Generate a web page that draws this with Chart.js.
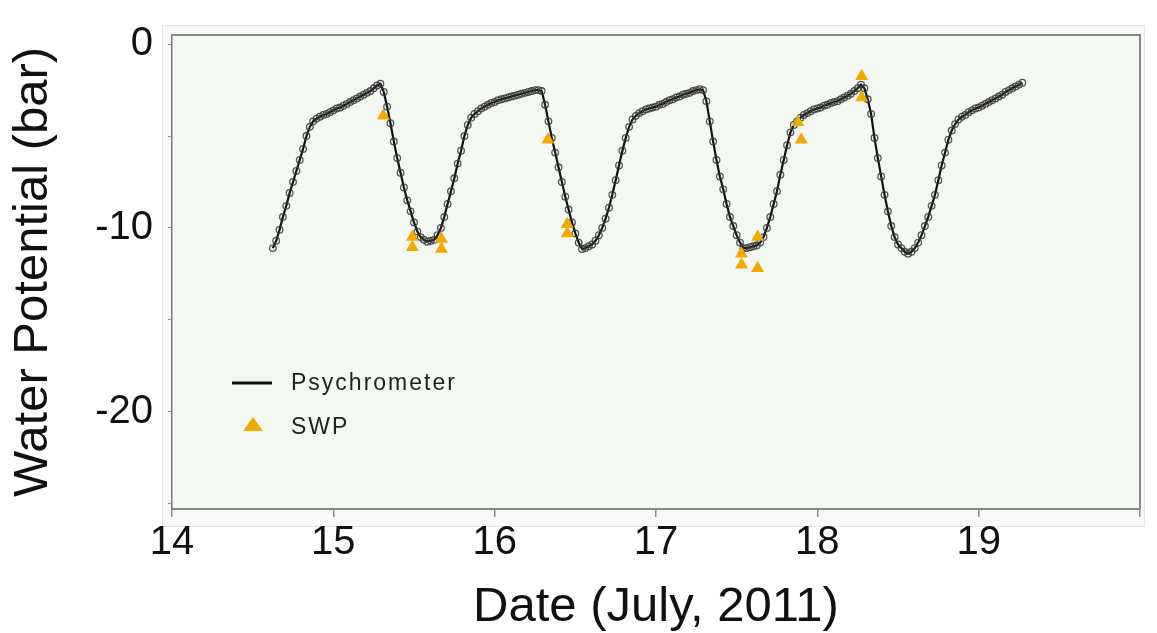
<!DOCTYPE html>
<html>
<head>
<meta charset="utf-8">
<title>Water Potential</title>
<script src="https://cdn.jsdelivr.net/npm/chart.js@4.4.1/dist/chart.umd.min.js"></script>
<style>
  html, body { margin: 0; padding: 0; background: #fff; }
  #wrap { width: 1157px; height: 633px; position: relative; }
</style>
</head>
<body>
<div id="wrap"><canvas id="chart"></canvas></div>
<script>
// psychrometer readings, every half hour from 14 July 15:00
const startDay = 14.625
const stepDays = 1 / 48
const psychValues = [
  -11.1, -10.7, -10.1, -9.4, -8.8, -8.1, -7.5, -6.9, -6.3, -5.7, -5.0, -4.5,
  -4.2, -4.05, -3.95, -3.85, -3.8, -3.7, -3.6, -3.5, -3.45, -3.35, -3.25, -3.15,
  -3.05, -2.95, -2.85, -2.75, -2.65, -2.55, -2.4, -2.25, -2.15, -2.6, -3.4, -4.3,
  -5.3, -6.2, -7.0, -7.8, -8.5, -9.1, -9.7, -10.2, -10.5, -10.65, -10.75, -10.7,
  -10.65, -10.4, -10.0, -9.4, -8.7, -8.0, -7.3, -6.5, -5.8, -5.0, -4.4, -4.0,
  -3.8, -3.65, -3.5, -3.4, -3.3, -3.2, -3.15, -3.05, -3.0, -2.95, -2.9, -2.85,
  -2.8, -2.75, -2.7, -2.65, -2.6, -2.55, -2.5, -2.5, -2.55, -3.3, -4.2, -5.1,
  -5.9, -6.7, -7.5, -8.3, -9.0, -9.7, -10.3, -10.8, -11.15, -11.1, -11.0, -10.9,
  -10.7, -10.4, -10.0, -9.5, -8.9, -8.2, -7.4, -6.6, -5.8, -5.1, -4.5, -4.1,
  -3.9, -3.75, -3.65, -3.55, -3.5, -3.45, -3.4, -3.3, -3.25, -3.15, -3.05, -3.0,
  -2.9, -2.85, -2.75, -2.7, -2.65, -2.55, -2.5, -2.45, -2.5, -3.1, -4.2, -5.3,
  -6.3, -7.2, -7.9, -8.7, -9.4, -9.9, -10.4, -10.8, -11.1, -11.1, -11.05, -11.0,
  -10.95, -10.8, -10.5, -10.0, -9.4, -8.7, -8.0, -7.1, -6.3, -5.5, -4.8, -4.4,
  -4.2, -4.0, -3.85, -3.75, -3.65, -3.55, -3.5, -3.45, -3.35, -3.3, -3.2, -3.15,
  -3.1, -3.0, -2.9, -2.8, -2.7, -2.55, -2.4, -2.2, -2.4, -3.0, -3.8, -5.1,
  -6.2, -7.2, -8.2, -9.1, -9.9, -10.5, -10.9, -11.1, -11.3, -11.4, -11.3, -11.1,
  -10.8, -10.4, -9.9, -9.4, -8.8, -8.2, -7.4, -6.6, -5.9, -5.2, -4.7, -4.35,
  -4.1, -3.95, -3.85, -3.7, -3.6, -3.5, -3.45, -3.35, -3.25, -3.15, -3.05, -2.95,
  -2.85, -2.75, -2.6, -2.5, -2.4, -2.3, -2.2, -2.1,
]

// stem water potential (pressure chamber) samples
const swpDays = [15.31, 15.49, 15.49, 15.67, 15.67, 16.33, 16.45, 16.45, 17.53, 17.53, 17.63, 17.63, 17.88, 17.9, 18.275, 18.275]
const swpValues = [-3.9, -10.5, -11.05, -10.6, -11.15, -5.2, -9.8, -10.3, -11.4, -12.0, -10.5, -12.2, -4.25, -5.2, -1.75, -2.9]

const xTicks = [14, 15, 16, 17, 18, 19, 20]
const xLabels = ["14", "15", "16", "17", "18", "19", ""]
const yTicks = [-25, -20, -15, -10, -5, 0]
const yLabels = ["", "-20", "", "-10", "", "0"]

const fontFamily = "'Liberation Sans', Arial, sans-serif"
const swpColor = "#f2a900"

const psychData = psychValues.map((v, i) => ({ x: startDay + i * stepDays, y: v }))
const swpData = swpValues.map((v, i) => ({ x: swpDays[i], y: v }))

// plot background, frame and in-plot legend
const framePlugin = {
    id: "frame",
    beforeDraw(chart) {
        const { ctx, chartArea: a } = chart
        ctx.save()
        ctx.fillStyle = "#f7f8f7"
        ctx.fillRect(a.left - 9, a.top - 9, a.right - a.left + 14, a.bottom - a.top + 27)
        ctx.strokeStyle = "#e3e5e3"
        ctx.lineWidth = 1
        ctx.strokeRect(a.left - 9.5, a.top - 9.5, a.right - a.left + 14, a.bottom - a.top + 27)
        ctx.fillStyle = "#f3f8f2"
        ctx.fillRect(a.left, a.top, a.right - a.left, a.bottom - a.top)
        ctx.restore()
    },
    afterDraw(chart) {
        const { ctx, chartArea: a } = chart
        ctx.save()
        ctx.strokeStyle = "#8a8a8a"
        ctx.lineWidth = 2
        ctx.beginPath()
        ctx.moveTo(a.left, a.top)
        ctx.lineTo(a.right, a.top)
        ctx.lineTo(a.right, a.bottom)
        ctx.stroke()

        // legend
        const lx = a.left + 60
        ctx.strokeStyle = "#111"
        ctx.lineWidth = 3
        ctx.beginPath()
        ctx.moveTo(lx, 383)
        ctx.lineTo(lx + 40, 383)
        ctx.stroke()

        ctx.fillStyle = swpColor
        ctx.beginPath()
        ctx.moveTo(lx + 21, 417)
        ctx.lineTo(lx + 31, 431)
        ctx.lineTo(lx + 11, 431)
        ctx.closePath()
        ctx.fill()

        ctx.fillStyle = "#222"
        ctx.font = "23px " + fontFamily
        ctx.textBaseline = "middle"
        if ("letterSpacing" in ctx) ctx.letterSpacing = "2px"
        ctx.fillText("Psychrometer", lx + 59, 384)
        ctx.fillText("SWP", lx + 59, 428)
        ctx.restore()
    },
}

new Chart(document.getElementById("chart"), {
    type: "line",
    data: {
        datasets: [
            {
                type: "scatter",
                label: "SWP",
                data: swpData,
                pointStyle: "triangle",
                pointRadius: 7.5,
                pointBackgroundColor: swpColor,
                pointBorderColor: swpColor,
                pointBorderWidth: 0,
                showLine: false,
                order: 0,
            },
            {
                label: "Psychrometer",
                data: psychData,
                borderColor: "#111",
                borderWidth: 2.2,
                tension: 0,
                pointRadius: 3.3,
                pointBorderWidth: 1.3,
                pointBorderColor: "rgba(55, 55, 55, 0.85)",
                pointBackgroundColor: "rgba(0, 0, 0, 0)",
                fill: false,
                order: 1,
            },
        ],
    },
    options: {
        responsive: true,
        maintainAspectRatio: false,
        animation: false,
        layout: { padding: { top: 23, right: 17, left: 0, bottom: 0 } },
        plugins: {
            legend: { display: false },
            tooltip: { enabled: false },
        },
        scales: {
            x: {
                type: "linear",
                min: 14,
                max: 20,
                afterBuildTicks: (scale) => { scale.ticks = xTicks.map((v) => ({ value: v })) },
                afterFit: (scale) => { scale.height = 124 },
                grid: { drawOnChartArea: false, drawTicks: true, tickLength: 8, color: "#8a8a8a", lineWidth: 1.5 },
                border: { color: "#8a8a8a", width: 2 },
                ticks: {
                    padding: 6,
                    maxRotation: 0,
                    autoSkip: false,
                    color: "#111",
                    font: { family: fontFamily, size: 40, lineHeight: 1 },
                    callback: (v) => xLabels[xTicks.indexOf(v)],
                },
                title: {
                    display: true,
                    text: "Date (July, 2011)",
                    color: "#111",
                    font: { family: fontFamily, size: 49, lineHeight: 1 },
                    padding: { top: 0, bottom: 1 },
                },
            },
            y: {
                min: -25.3,
                max: 0.5,
                afterBuildTicks: (scale) => { scale.ticks = yTicks.map((v) => ({ value: v })) },
                afterFit: (scale) => { scale.width = 172 },
                grid: { drawOnChartArea: false, drawTicks: true, tickLength: 4, color: "#8a8a8a" },
                border: { color: "#777", width: 1.5, dash: [2, 2] },
                ticks: {
                    padding: 15,
                    color: "#111",
                    font: { family: fontFamily, size: 40, lineHeight: 1 },
                    callback: (v) => yLabels[yTicks.indexOf(v)],
                },
                title: {
                    display: true,
                    text: "Water Potential (bar)",
                    color: "#111",
                    font: { family: fontFamily, size: 49, lineHeight: 1 },
                    padding: { top: 9, bottom: 0 },
                },
            },
        },
    },
    plugins: [framePlugin],
})
</script>
</body>
</html>
